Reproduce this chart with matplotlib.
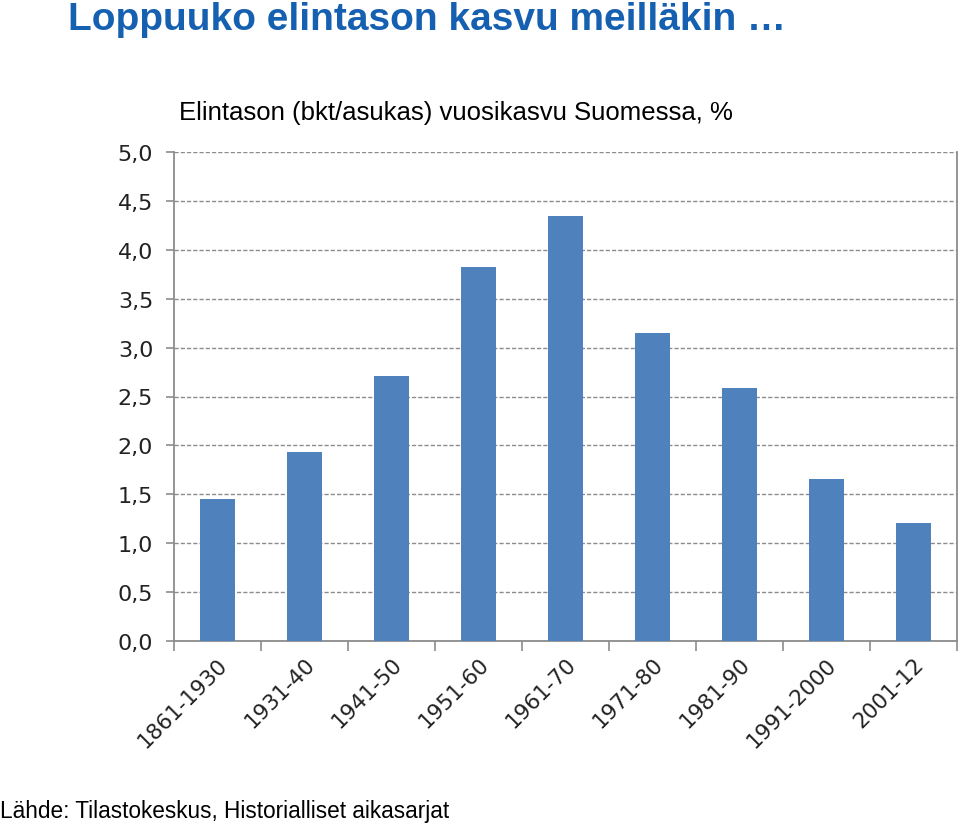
import matplotlib
matplotlib.use("Agg")
import matplotlib.pyplot as plt
import numpy as np

categories = ["1861-1930", "1931-40", "1941-50", "1951-60", "1961-70",
              "1971-80", "1981-90", "1991-2000", "2001-12"]
values = [1.45, 1.93, 2.71, 3.82, 4.35, 3.15, 2.59, 1.66, 1.21]
yticks = [0.0, 0.5, 1.0, 1.5, 2.0, 2.5, 3.0, 3.5, 4.0, 4.5, 5.0]
ytick_labels = ["0,0", "0,5", "1,0", "1,5", "2,0", "2,5", "3,0", "3,5", "4,0", "4,5", "5,0"]

fig = plt.figure(figsize=(9.59, 8.29), dpi=100)
ax = fig.add_axes([174/959, 1-642/829, (957-174)/959, (642-153)/829])

x = np.arange(len(categories))
ax.bar(x, values, width=0.4, color="#4F81BD", zorder=3)
ax.set_xlim(-0.5, len(categories) - 0.5)
ax.set_ylim(0, 5.0)

ax.set_yticks(yticks)
ax.set_yticklabels(ytick_labels, fontsize=16, family="DejaVu Sans", color="#222222")
ax.yaxis.grid(True, linestyle=(0, (3, 1.5)), color="#8c8c8c", linewidth=1.0, zorder=0)

ax.set_xticks(np.arange(len(categories) + 1) - 0.5)
ax.set_xticklabels([])
ax.set_xticks(x, minor=True)
ax.set_xticklabels(categories, minor=True, rotation=45, ha="right", va="top",
                   rotation_mode="anchor", fontsize=15.5, family="DejaVu Sans", color="#222222")
ax.tick_params(axis="x", which="minor", length=0, pad=9)
ax.tick_params(axis="x", which="major", length=7, color="#8c8c8c", width=1.2)
ax.tick_params(axis="y", length=6, color="#8c8c8c", width=1.2, pad=9)

for s in ["left", "bottom", "right"]:
    ax.spines[s].set_color("#8c8c8c")
    ax.spines[s].set_linewidth(1.3)
ax.spines["top"].set_visible(False)

fig.text(68/959, 1-20/829, "Loppuuko elintason kasvu meilläkin …", fontsize=28,
         fontweight="bold", color="#1560B0", family="Liberation Sans", va="center", ha="left")
fig.text(179/959, 1-113/829, "Elintason (bkt/asukas) vuosikasvu Suomessa, %", fontsize=18.5,
         color="black", family="Liberation Sans", va="center", ha="left")
fig.text(0/959, 1-812/829, "Lähde: Tilastokeskus, Historialliset aikasarjat", fontsize=16.3,
         color="black", family="Liberation Sans", va="center", ha="left")

fig.savefig("out.png", dpi=100)
